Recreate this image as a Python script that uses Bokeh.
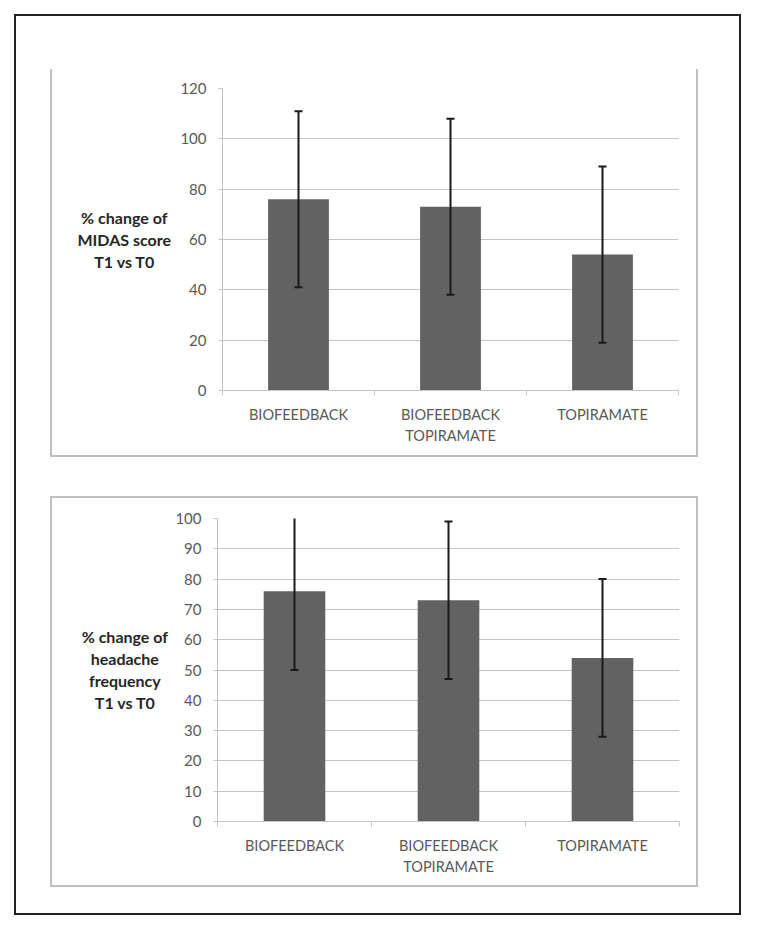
from bokeh.plotting import figure
from bokeh.layouts import column, row
from bokeh.models import Range1d, FixedTicker, ColumnDataSource, Div
from bokeh.embed import file_html
from bokeh.resources import INLINE

categories = ["BIOFEEDBACK", "BIOFEEDBACK\nTOPIRAMATE", "TOPIRAMATE"]

midas_mean = [76, 73, 54]
midas_sd = [35, 35, 35]
midas_ticks = [0, 20, 40, 60, 80, 100, 120]
midas_label = ["% change of", "MIDAS score", "T1 vs T0"]

freq_mean = [76, 73, 54]
freq_sd = [26, 26, 26]
freq_ticks = [0, 10, 20, 30, 40, 50, 60, 70, 80, 90, 100]
freq_label = ["% change of", "headache", "frequency", "T1 vs T0"]

FONT = "Lato"
GRID = "#c4c4c4"
TXT = "#595959"
BAR = "#626262"
PANEL = "2px solid #c0c0c0"


def make_chart(means, sds, ticks, width, height, mb_left, mb_right, mb_top, mb_bottom):
    n = len(categories)
    xs = [i + 0.5 for i in range(n)]
    src = ColumnDataSource(dict(
        x=xs, top=means,
        lower=[m - s for m, s in zip(means, sds)],
        upper=[m + s for m, s in zip(means, sds)],
    ))
    p = figure(width=width, height=height, output_backend="svg", toolbar_location=None,
               x_range=Range1d(0, n), y_range=Range1d(ticks[0], ticks[-1]),
               min_border_left=mb_left, min_border_right=mb_right,
               min_border_top=mb_top, min_border_bottom=mb_bottom, margin=0)
    p.outline_line_color = None
    p.background_fill_color = "white"
    p.border_fill_color = "white"

    p.vbar(x="x", top="top", bottom=0, width=0.4, source=src,
           fill_color=BAR, line_color=None)
    p.segment(x0="x", y0="lower", x1="x", y1="upper", source=src,
              line_color="#1a1a1a", line_width=2)
    p.scatter(x="x", y="upper", source=src, marker="dash", size=8,
              line_color="#1a1a1a", line_width=2)
    p.scatter(x="x", y="lower", source=src, marker="dash", size=8,
              line_color="#1a1a1a", line_width=2)

    ya = p.yaxis[0]
    ya.ticker = FixedTicker(ticks=ticks)
    ya.axis_line_color = GRID
    ya.major_tick_line_color = GRID
    ya.major_tick_out = 4
    ya.major_tick_in = 0
    ya.minor_tick_line_color = None
    ya.major_label_standoff = 12
    ya.major_label_text_font = FONT
    ya.major_label_text_font_size = "15px"
    ya.major_label_text_color = TXT

    xa = p.xaxis[0]
    xa.ticker = FixedTicker(ticks=xs, minor_ticks=list(range(n + 1)))
    xa.major_label_overrides = {x: c for x, c in zip(xs, categories)}
    xa.axis_line_color = GRID
    xa.major_tick_line_color = None
    xa.minor_tick_line_color = GRID
    xa.minor_tick_out = 5
    xa.minor_tick_in = 0
    xa.major_label_standoff = 9
    xa.major_label_text_font = FONT
    xa.major_label_text_font_size = "14.5px"
    xa.major_label_text_color = TXT
    xa.major_label_text_line_height = 1.25

    p.xgrid.grid_line_color = None
    p.ygrid.grid_line_color = GRID
    p.ygrid.grid_line_width = 1
    return p


def make_label(lines, width, height, pad_top, pad_right):
    html = (
        f'<div style="width:{width}px;height:{height}px;box-sizing:border-box;'
        f'padding-top:{pad_top}px;padding-right:{pad_right}px;text-align:right;">'
        f'<div style="display:inline-block;text-align:center;font-family:Lato;'
        f'font-weight:bold;font-size:16px;line-height:22px;color:#262626;">'
        + "<br>".join(lines) + "</div></div>"
    )
    return Div(text=html, width=width, height=height, margin=0)


p1 = make_chart(midas_mean, midas_sd, midas_ticks, 519, 386, 45, 18, 19, 65)
d1 = make_label(midas_label, 125, 386, 138, 6)
panel1 = row(d1, p1, spacing=0)
panel1.styles = {"border-left": PANEL, "border-right": PANEL, "border-bottom": PANEL,
                 "background-color": "white"}

p2 = make_chart(freq_mean, freq_sd, freq_ticks, 524, 387, 45, 17, 20, 64)
d2 = make_label(freq_label, 120, 387, 128, 4)
panel2 = row(d2, p2, spacing=0)
panel2.styles = {"border": PANEL, "background-color": "white"}

inner = column(panel1, panel2, spacing=39)
inner.styles = {"border": "2px solid #222222", "padding": "53px 41px 26px 34px",
                "margin-left": "14px", "margin-top": "14px", "background-color": "white"}

open("out.html", "w").write(file_html(inner, INLINE))
